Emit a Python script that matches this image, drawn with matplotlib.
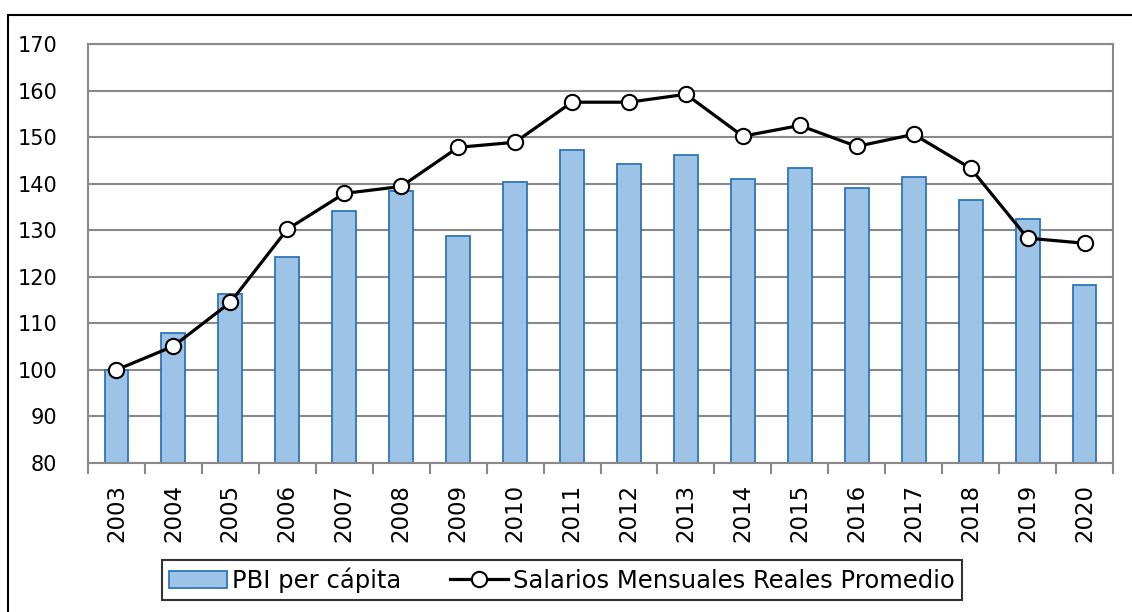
import matplotlib
matplotlib.use("Agg")
from matplotlib import pyplot as plt
from matplotlib.patches import Rectangle
import numpy as np

years = [str(y) for y in range(2003, 2021)]
pbi = [100.0, 107.9, 116.3, 124.2, 134.1, 138.4, 128.7, 140.3, 147.2, 144.2,
       146.1, 140.9, 143.3, 139.0, 141.4, 136.4, 132.5, 118.2]
salarios = [100.0, 105.1, 114.5, 130.2, 137.9, 139.4, 147.8, 148.9, 157.5, 157.5,
            159.2, 150.2, 152.5, 148.0, 150.6, 143.3, 128.3, 127.2]
yticks = list(range(80, 171, 10))

plt.rcParams['font.family'] = ['DejaVu Sans']

fig = plt.figure(figsize=(11.32, 6.12), dpi=100)
ax = fig.add_axes([88/1132, 1 - 463/612, (1113-88)/1132, (463-44)/612])

x = np.arange(len(years))
bars = ax.bar(x, np.array(pbi) - 80, bottom=80, width=0.42, color='#9DC3E6',
              edgecolor='#2E75B6', linewidth=1.3, label='PBI per cápita', zorder=2)
line, = ax.plot(x, salarios, '-o', color='black', linewidth=2.3, markersize=11,
                markerfacecolor='white', markeredgecolor='black', markeredgewidth=1.5,
                label='Salarios Mensuales Reales Promedio', zorder=3)

ax.set_ylim(80, 170)
ax.set_xlim(-0.5, len(years) - 0.5)
ax.set_yticks(yticks)
ax.set_yticklabels([str(v) for v in yticks], fontsize=15)
ax.yaxis.grid(True, color='#898989', linewidth=1.5, zorder=0)
ax.set_axisbelow(True)
ax.tick_params(axis='y', length=0, pad=22)

ax.set_xticks(x)
ax.set_xticklabels(years, rotation=90, fontsize=16.5)
ax.set_xticks(np.arange(-0.5, len(years)), minor=True)
ax.tick_params(axis='x', which='major', length=0, pad=15)
ax.tick_params(axis='x', which='minor', length=8, width=1.5, color='#898989')

for s in ax.spines.values():
    s.set_color('#898989')
    s.set_linewidth(1.5)

leg = ax.legend([bars, line], ['PBI per cápita', 'Salarios Mensuales Reales Promedio'],
                loc='center', bbox_to_anchor=(562/1132, 1 - 580/612),
                bbox_transform=fig.transFigure, ncol=2, fontsize=17.5,
                frameon=True, fancybox=False, edgecolor='black',
                handlelength=2.4, handletextpad=0.2, columnspacing=2.0, borderpad=0.3,
                borderaxespad=0)
leg.get_frame().set_linewidth(1.5)

fig.patches.append(Rectangle((8/1132, -0.1), 1.2, 1 - 15/612 + 0.1,
                             transform=fig.transFigure, fill=False,
                             edgecolor='black', linewidth=1.5))

fig.savefig('out.png', dpi=100)
